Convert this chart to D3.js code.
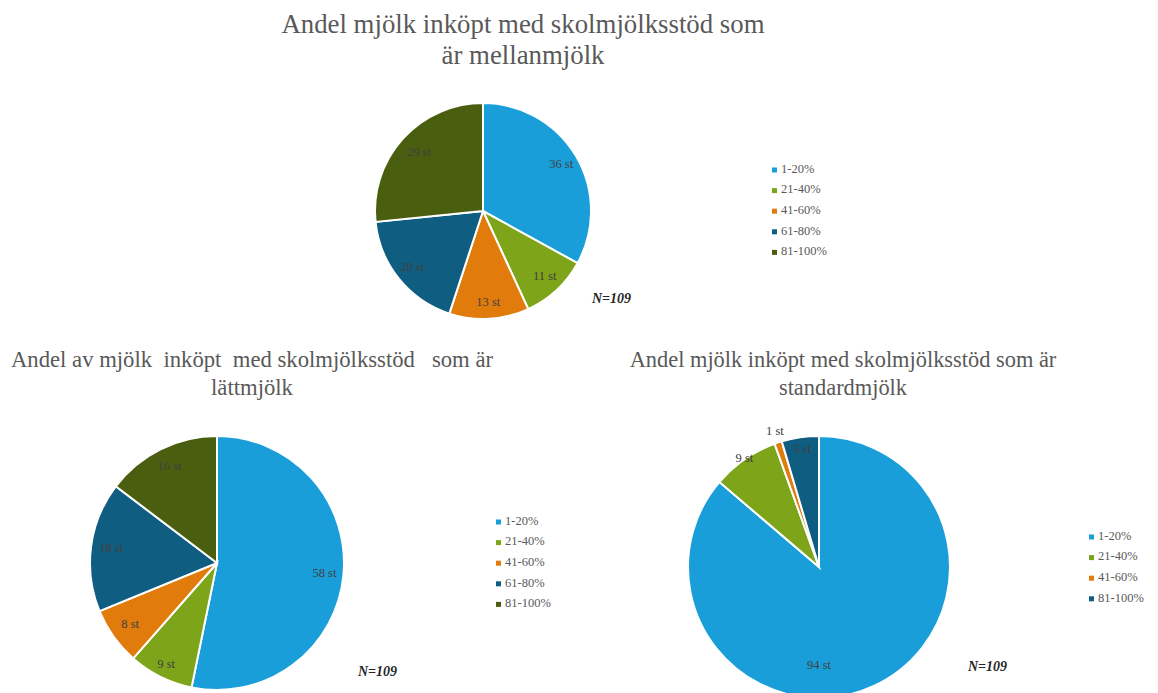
<!DOCTYPE html>
<html lang="sv">
<head>
    <meta charset="UTF-8">
    <title>Andel mjölk inköpt med skolmjölksstöd</title>
    <script src="https://d3js.org/d3.v7.min.js"></script>
    <style>
        body {
            margin: 0;
            background: #fff;
        }
        svg text {
            font-family: "Liberation Serif", "DejaVu Serif", serif;
        }
        .title {
            fill: #595959;
            white-space: pre;
        }
        .slice-label {
            font-size: 12.5px;
            fill: #404040;
        }
        .legend text {
            font-size: 12.5px;
            fill: #595959;
        }
        .n-label {
            font-size: 14px;
            font-style: italic;
            font-weight: bold;
            fill: #262626;
        }
    </style>
</head>
<body>
    <div id="chart"></div>

    <script>
        // Data
        const categories = ["1-20%", "21-40%", "41-60%", "61-80%", "81-100%"];
        const mellanCounts = [36, 11, 13, 20, 29];
        const lattCounts = [58, 9, 8, 18, 16];
        const standardCategories = ["1-20%", "21-40%", "41-60%", "81-100%"];
        const standardCounts = [94, 9, 1, 5];
        const colors = ["#1a9ed9", "#7ea51a", "#e07b0c", "#0f5d81", "#4a5e0f"];
        const standardColors = ["#1a9ed9", "#7ea51a", "#e07b0c", "#0f5d81"];
        const nTotal = 109;

        const width = 1158, height = 693;

        const svg = d3.select("#chart")
                      .append("svg")
                      .attr("width", width)
                      .attr("height", height);

        // one config per pie: layout only
        const charts = [
            {
                title: ["Andel mjölk inköpt med skolmjölksstöd som", "är mellanmjölk"],
                titleX: 523, titleY: 33, titleSize: 26.8, titleGap: 31,
                cats: categories, values: mellanCounts, colors: colors,
                cx: 483, cy: 211, r: 108,
                labelR: [0.84, 0.84, 0.85, 0.84, 0.8],
                legendX: 772, legendY: 170,
                nX: 592, nY: 303
            },
            {
                title: ["Andel av mjölk  inköpt  med skolmjölksstöd   som är", "lättmjölk"],
                titleX: 252, titleY: 367, titleSize: 22.7, titleGap: 28,
                cats: categories, values: lattCounts, colors: colors,
                cx: 217, cy: 563, r: 127,
                labelR: [0.85, 0.9, 0.84, 0.84, 0.84],
                legendX: 496, legendY: 522,
                nX: 358, nY: 676
            },
            {
                title: ["Andel mjölk inköpt med skolmjölksstöd som är", "standardmjölk"],
                titleX: 843, titleY: 367, titleSize: 22.4, titleGap: 28,
                cats: standardCategories, values: standardCounts, colors: standardColors,
                cx: 819, cy: 567, r: 131,
                labelR: [0.76, 1.0, 1.08, 0.9],
                labelAngle: [Math.PI, null, null, null],
                legendX: 1089, legendY: 537,
                nX: 968, nY: 671
            }
        ];

        charts.forEach(c => {
            const g = svg.append("g");

            // Title
            c.title.forEach((line, i) => {
                g.append("text")
                 .attr("class", "title")
                 .attr("x", c.titleX)
                 .attr("y", c.titleY + i * c.titleGap)
                 .attr("text-anchor", "middle")
                 .style("font-size", c.titleSize + "px")
                 .text(line);
            });

            const pie = d3.pie().sort(null).value(d => d);
            const arcs = pie(c.values);
            const arc = d3.arc().innerRadius(0).outerRadius(c.r);

            const pg = g.append("g")
                        .attr("transform", `translate(${c.cx}, ${c.cy})`);

            pg.selectAll("path")
              .data(arcs)
              .join("path")
              .attr("d", arc)
              .attr("fill", (d, i) => c.colors[i])
              .attr("stroke", "#fff")
              .attr("stroke-width", 2);

            // Slice labels
            pg.selectAll("text")
              .data(arcs)
              .join("text")
              .attr("class", "slice-label")
              .attr("text-anchor", "middle")
              .attr("dominant-baseline", "middle")
              .attr("transform", (d, i) => {
                  let a = (d.startAngle + d.endAngle) / 2;
                  if (c.labelAngle && c.labelAngle[i] != null) a = c.labelAngle[i];
                  const rr = c.r * c.labelR[i];
                  return `translate(${Math.sin(a) * rr}, ${-Math.cos(a) * rr})`;
              })
              .text(d => d.data + " st");

            // Legend
            const lg = g.append("g")
                        .attr("class", "legend")
                        .attr("transform", `translate(${c.legendX}, ${c.legendY})`);

            const items = lg.selectAll("g")
                            .data(c.cats)
                            .join("g")
                            .attr("transform", (d, i) => `translate(0, ${i * 20.6})`);

            items.append("rect")
                 .attr("x", 0)
                 .attr("y", -2.5)
                 .attr("width", 5)
                 .attr("height", 5)
                 .attr("fill", (d, i) => c.colors[i]);

            items.append("text")
                 .attr("x", 9)
                 .attr("y", 0)
                 .attr("dominant-baseline", "middle")
                 .text(d => d);

            g.append("text")
             .attr("class", "n-label")
             .attr("x", c.nX)
             .attr("y", c.nY)
             .text("N=" + nTotal);
        });
    </script>
</body>
</html>
